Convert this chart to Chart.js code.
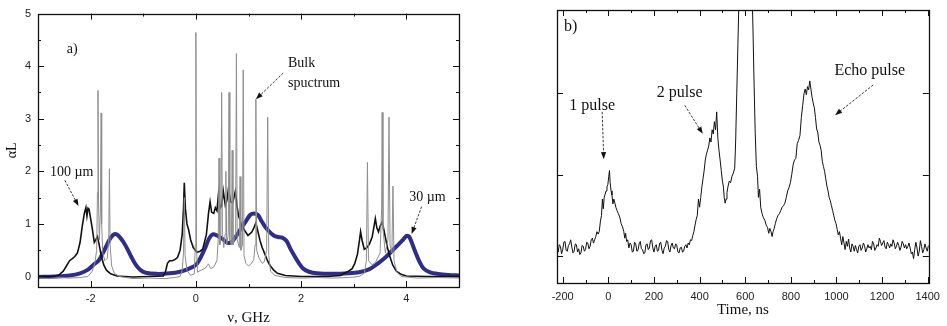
<!DOCTYPE html>
<html>
<head>
<meta charset="utf-8">
<script src="https://cdn.jsdelivr.net/npm/chart.js@4.4.0/dist/chart.umd.min.js"></script>
<style>
  html, body { margin: 0; padding: 0; background: #fff; }
  body { width: 947px; height: 326px; position: relative; overflow: hidden; }
  #panelA { position: absolute; left: 0; top: 0; }
  #panelB { position: absolute; left: 505px; top: 0; }
</style>
</head>
<body>
<canvas id="panelA" width="480" height="326"></canvas>
<canvas id="panelB" width="442" height="326"></canvas>
<script>
// ---------- panel a) absorption spectra, [frequency GHz, alpha*L] ----------
const bulkSpectrum = [
  [-3.0,-0.03],[-2.8,-0.04],[-2.6,-0.02],[-2.4,-0.03],[-2.2,-0.02],[-2.05,0.0],[-1.97,0.1],[-1.92,0.25],
  [-1.885,0.5],[-1.87,1.6],[-1.86,3.54],[-1.85,1.4],[-1.835,0.7],[-1.815,1.2],[-1.8,3.11],[-1.79,1.0],
  [-1.77,0.45],[-1.73,0.3],[-1.68,0.35],[-1.655,0.8],[-1.643,2.05],[-1.63,0.6],[-1.6,0.2],[-1.55,0.06],
  [-1.45,0.0],[-1.2,-0.04],[-0.9,-0.03],[-0.6,-0.04],[-0.4,-0.02],[-0.3,0.0],[-0.26,0.12],[-0.235,0.45],
  [-0.22,1.5],[-0.205,0.4],[-0.17,0.12],[-0.1,0.02],[-0.03,0.05],[-0.012,0.6],[0.0,4.64],[0.012,0.6],
  [0.03,0.08],[0.1,0.12],[0.18,0.16],[0.24,0.24],[0.28,0.15],[0.34,0.18],[0.4,0.3],[0.425,0.7],
  [0.44,2.25],[0.455,0.6],[0.475,0.8],[0.49,3.5],[0.505,0.8],[0.53,0.55],[0.555,0.8],[0.57,2.0],
  [0.585,0.6],[0.615,0.8],[0.63,3.5],[0.645,0.7],[0.675,0.6],[0.69,2.4],[0.705,0.6],[0.755,0.8],
  [0.77,4.24],[0.785,0.7],[0.825,0.55],[0.84,1.9],[0.855,0.5],[0.885,0.6],[0.9,3.93],[0.915,0.4],
  [0.95,0.25],[1.0,0.2],[1.05,0.24],[1.1,0.32],[1.125,0.6],[1.14,3.37],[1.155,0.5],[1.2,0.35],
  [1.26,0.25],[1.3,0.28],[1.345,0.5],[1.365,3.03],[1.385,0.4],[1.42,0.1],[1.5,0.02],[1.7,-0.02],
  [2.0,-0.03],[2.3,-0.02],[2.6,-0.03],[2.9,-0.02],[3.1,0.0],[3.2,0.06],[3.24,0.3],[3.26,2.17],
  [3.28,0.3],[3.35,0.22],[3.42,0.28],[3.5,0.45],[3.53,1.3],[3.54,3.12],[3.555,0.9],[3.6,0.45],
  [3.65,0.7],[3.67,3.03],[3.69,0.6],[3.725,0.45],[3.745,1.72],[3.765,0.3],[3.82,0.08],[3.9,0.0],
  [4.2,-0.03],[4.6,-0.02],[5.0,-0.03]
];
const film100 = [
  [-3.0,0.0],[-2.7,0.0],[-2.6,0.03],[-2.52,0.1],[-2.46,0.2],[-2.4,0.3],[-2.36,0.33],[-2.3,0.38],
  [-2.25,0.45],[-2.2,0.65],[-2.16,0.95],[-2.12,1.2],[-2.09,1.31],[-2.07,1.15],[-2.05,1.3],[-2.03,1.28],
  [-2.0,1.1],[-1.97,0.92],[-1.93,0.65],[-1.9,0.7],[-1.87,0.76],[-1.84,0.62],[-1.8,0.4],[-1.75,0.22],
  [-1.7,0.12],[-1.62,0.05],[-1.5,0.01],[-1.2,-0.01],[-0.9,0.0],[-0.62,0.01],[-0.58,0.08],[-0.54,0.25],
  [-0.5,0.3],[-0.45,0.3],[-0.4,0.32],[-0.35,0.36],[-0.3,0.5],[-0.26,0.8],[-0.235,1.3],[-0.22,1.78],
  [-0.2,1.3],[-0.17,1.0],[-0.14,0.9],[-0.1,0.7],[-0.05,0.55],[0.02,0.46],[0.08,0.48],[0.13,0.52],
  [0.2,0.8],[0.24,1.2],[0.27,1.42],[0.3,1.22],[0.34,1.2],[0.37,1.31],[0.4,1.25],[0.43,1.57],
  [0.46,1.3],[0.49,1.35],[0.52,1.63],[0.56,1.35],[0.59,1.45],[0.62,1.68],[0.66,1.42],[0.7,1.4],
  [0.75,1.62],[0.78,1.35],[0.81,1.16],[0.87,0.97],[0.93,0.87],[0.99,0.78],[1.06,0.84],[1.1,0.92],
  [1.14,1.02],[1.18,0.85],[1.22,0.68],[1.26,0.55],[1.31,0.43],[1.36,0.3],[1.41,0.21],[1.48,0.12],
  [1.55,0.06],[1.7,0.02],[2.0,0.0],[2.5,0.0],[2.75,0.02],[2.82,0.06],[2.9,0.1],[2.97,0.15],
  [3.02,0.25],[3.07,0.42],[3.11,0.7],[3.13,0.85],[3.16,0.68],[3.2,0.52],[3.25,0.55],[3.3,0.62],
  [3.35,0.75],[3.39,0.98],[3.41,1.1],[3.44,0.92],[3.47,0.85],[3.5,0.95],[3.54,1.04],[3.57,0.9],
  [3.6,0.75],[3.64,0.55],[3.68,0.4],[3.74,0.22],[3.81,0.1],[3.9,0.04],[4.0,0.01],[4.4,0.0],[5.0,0.0]
];
const film30 = [
  [-3.0,-0.01],[-2.7,0.0],[-2.4,0.02],[-2.2,0.06],[-2.05,0.13],[-1.95,0.22],[-1.85,0.3],[-1.78,0.42],
  [-1.7,0.58],[-1.63,0.72],[-1.56,0.8],[-1.5,0.8],[-1.44,0.74],[-1.38,0.66],[-1.3,0.52],[-1.22,0.36],
  [-1.14,0.22],[-1.05,0.12],[-0.95,0.07],[-0.75,0.05],[-0.5,0.06],[-0.3,0.09],[-0.15,0.14],[0.0,0.22],
  [0.1,0.38],[0.18,0.55],[0.25,0.72],[0.32,0.8],[0.4,0.78],[0.5,0.72],[0.6,0.64],[0.68,0.66],
  [0.76,0.76],[0.85,0.9],[0.95,1.05],[1.03,1.17],[1.1,1.2],[1.18,1.17],[1.25,1.05],[1.32,0.94],
  [1.4,0.85],[1.48,0.78],[1.56,0.75],[1.64,0.74],[1.72,0.68],[1.8,0.52],[1.88,0.38],[1.96,0.25],
  [2.04,0.15],[2.15,0.09],[2.3,0.06],[2.6,0.05],[2.9,0.06],[3.1,0.08],[3.3,0.14],[3.45,0.24],
  [3.6,0.36],[3.72,0.48],[3.82,0.58],[3.92,0.68],[4.0,0.77],[4.05,0.76],[4.12,0.6],[4.18,0.44],
  [4.25,0.28],[4.33,0.15],[4.45,0.08],[4.6,0.05],[4.8,0.03],[5.0,0.02]
];
const xTicksA = [-2, 0, 2, 4];
const xMinorA = [-1, 1, 3];
const yTicksA = [0, 1, 2, 3, 4, 5];
const yMinorA = [0.5, 1.5, 2.5, 3.5, 4.5];

// ---------- panel b) photon echo trace, [time ns, signal a.u.] ----------
const pulseTrace = [
  [-225,0.1],[-220,0.05],[-215,0.14],[-210,0.12],[-205,0.03],[-200,0.08],[-195,0.17],[-190,0.18],[-185,0.07],
  [-180,0.06],[-175,0.13],[-170,0.15],[-165,0.2],[-160,0.11],[-155,0.04],[-150,0.06],[-145,0.15],[-140,0.14],
  [-135,0.05],[-130,0.09],[-125,0.02],[-120,0.04],[-115,0.13],[-110,0.12],[-105,0.06],[-100,0.08],[-95,0.17],
  [-90,0.16],[-85,0.09],[-80,0.12],[-75,0.2],[-70,0.22],[-65,0.16],[-60,0.2],[-55,0.24],[-50,0.3],[-45,0.27],
  [-40,0.3],[-35,0.42],[-30,0.5],[-26,0.7],[-22,0.58],[-18,0.72],[-14,0.76],[-10,0.8],[-6,0.85],[-2,0.88],
  [2,0.98],[5,1.05],[8,0.9],[12,0.8],[16,0.75],[20,0.64],[24,0.7],[28,0.66],[33,0.6],[38,0.56],[44,0.52],
  [50,0.48],[56,0.4],[62,0.36],[68,0.3],[72,0.22],[76,0.28],[80,0.18],[85,0.2],[90,0.1],[95,0.16],[100,0.14],
  [105,0.05],[110,0.06],[115,0.17],[120,0.15],[125,0.06],[130,0.07],[135,0.15],[140,0.18],[145,0.09],[150,0.08],
  [155,0.03],[160,0.04],[165,0.14],[170,0.15],[175,0.08],[180,0.1],[185,0.19],[190,0.2],[195,0.1],[200,0.05],
  [205,0.12],[210,0.14],[215,0.06],[220,0.07],[225,0.16],[230,0.17],[235,0.07],[240,0.03],[245,0.1],[250,0.12],
  [255,0.19],[260,0.18],[265,0.08],[270,0.05],[275,0.13],[280,0.16],[285,0.1],[290,0.09],[295,0.15],[300,0.13],
  [305,0.05],[310,0.04],[315,0.1],[320,0.11],[325,0.05],[330,0.06],[335,0.12],[340,0.14],[345,0.1],[350,0.16],
  [355,0.14],[360,0.2],[365,0.19],[370,0.25],[375,0.3],[380,0.38],[385,0.45],[390,0.5],[395,0.7],[400,0.6],
  [405,0.72],[410,0.85],[415,0.95],[420,1.05],[425,1.18],[430,1.25],[435,1.3],[440,1.35],[445,1.45],[450,1.4],
  [455,1.55],[460,1.5],[465,1.65],[470,1.55],[475,1.77],[480,1.45],[485,1.3],[490,1.18],[495,1.05],[500,0.92],
  [504,0.86],[508,0.72],[512,0.65],[516,0.7],[520,0.78],[525,0.86],[530,0.92],[536,0.9],[542,0.98],[548,1.02],
  [554,1.08],[558,1.4],[563,2.0],[568,2.6],[573,3.2],[580,3.9],[600,4.3],[620,4.1],[628,3.5],[634,2.8],
  [639,2.1],[644,1.5],[649,1.1],[654,0.98],[658,0.72],[663,0.82],[668,0.6],[674,0.52],[680,0.47],[686,0.44],
  [692,0.38],[698,0.35],[703,0.28],[708,0.34],[713,0.3],[718,0.24],[722,0.3],[727,0.34],[732,0.4],[738,0.46],
  [744,0.5],[750,0.52],[756,0.56],[762,0.6],[768,0.62],[774,0.65],[780,0.72],[786,0.8],[792,0.84],[798,0.9],
  [804,1.0],[810,1.12],[816,1.18],[822,1.2],[828,1.38],[834,1.42],[840,1.48],[846,1.7],[852,1.85],[858,2.0],
  [863,2.05],[868,1.98],[873,2.08],[878,2.04],[883,2.15],[888,2.05],[893,1.95],[898,1.88],[903,1.82],[908,1.7],
  [913,1.56],[918,1.52],[923,1.4],[928,1.36],[933,1.3],[938,1.16],[943,1.1],[948,1.04],[953,0.95],[958,0.86],
  [963,0.8],[968,0.72],[973,0.68],[978,0.62],[983,0.56],[988,0.5],[993,0.44],[998,0.4],[1003,0.33],[1008,0.26],
  [1013,0.3],[1018,0.22],[1023,0.14],[1028,0.24],[1033,0.16],[1038,0.08],[1043,0.18],[1048,0.12],[1053,0.21],
  [1058,0.1],[1063,0.05],[1068,0.15],[1073,0.12],[1078,0.06],[1083,0.13],[1088,0.08],[1093,0.04],[1098,0.12],
  [1103,0.14],[1108,0.07],[1113,0.1],[1118,0.16],[1123,0.13],[1128,0.05],[1133,0.09],[1138,0.14],[1143,0.1],
  [1148,0.12],[1153,0.08],[1158,0.18],[1163,0.15],[1168,0.07],[1173,0.1],[1178,0.14],[1183,0.12],[1188,0.22],
  [1193,0.18],[1198,0.13],[1203,0.16],[1208,0.19],[1213,0.11],[1218,0.09],[1223,0.17],[1228,0.14],[1233,0.1],
  [1238,0.15],[1243,0.12],[1248,0.2],[1253,0.16],[1258,0.09],[1263,0.12],[1268,0.17],[1273,0.13],[1278,0.07],
  [1283,0.11],[1288,0.18],[1293,0.15],[1298,0.1],[1303,0.14],[1308,0.09],[1313,0.12],[1318,0.16],[1323,0.1],
  [1328,0.03],[1333,0.05],[1338,-0.03],[1343,0.08],[1348,0.17],[1353,0.1],[1358,0.0],[1363,0.06],[1368,0.19],
  [1373,0.12],[1378,0.04],[1383,0.08],[1388,0.15],[1393,0.1],[1398,0.06],[1403,0.13]
];
const xTicksB = [-200, 0, 200, 400, 600, 800, 1000, 1200, 1400];
const xMinorB = [-100, 100, 300, 500, 700, 900, 1100, 1300];
const yTicksB = [0, 1, 2];

// annotation text + arrows, in data coordinates
const notesA = [
  { text: 'a)', x: -2.35, y: 4.32, align: 'center' },
  { text: '100 µm', x: -2.36, y: 1.99, align: 'center' },
  { text: 'Bulk', x: 1.75, y: 4.05, align: 'left' },
  { text: 'spuctrum', x: 1.75, y: 3.67, align: 'left' },
  { text: '30 µm', x: 4.4, y: 1.5, align: 'center' }
];
const arrowsA = [
  { from: [-2.49, 1.83], to: [-2.23, 1.34] },
  { from: [1.66, 3.87], to: [1.14, 3.37] },
  { from: [4.29, 1.33], to: [4.1, 0.81] }
];
const notesB = [
  { text: 'b)', x: -165, y: 2.81, align: 'center' },
  { text: '1 pulse', x: -71, y: 1.85, align: 'center' },
  { text: '2 pulse', x: 313, y: 2.0, align: 'center' },
  { text: 'Echo pulse', x: 1146, y: 2.28, align: 'center' }
];
const arrowsB = [
  { from: [-27, 1.77], to: [-20, 1.19] },
  { from: [335, 1.85], to: [414, 1.5] },
  { from: [1161, 2.1], to: [994, 1.73] }
];

const toPoints = pairs => pairs.map(p => ({ x: p[0], y: p[1] }));
const serif = '"Liberation Serif", "DejaVu Serif", serif';
const sans = '"Liberation Sans", Arial, sans-serif';
const plainLabel = v => String(v);

// box around the plot with inward tick marks on all four sides
function frameTicks(xMajor, xMinor, yMajor, yMinor) {
    return {
        id: 'frameTicks',
        afterDatasetsDraw(chart) {
            const { ctx, chartArea: a, scales: { x, y } } = chart;
            ctx.save();
            ctx.strokeStyle = '#111';
            ctx.lineWidth = 1;
            const seg = (x1, y1, x2, y2) => { ctx.beginPath(); ctx.moveTo(x1, y1); ctx.lineTo(x2, y2); ctx.stroke(); };
            const tx = (v, len) => {
                const px = Math.round(x.getPixelForValue(v)) + 0.5;
                seg(px, a.bottom, px, a.bottom - len);
                seg(px, a.top, px, a.top + len);
            };
            const ty = (v, len) => {
                const py = Math.round(y.getPixelForValue(v)) + 0.5;
                seg(a.left, py, a.left + len, py);
                seg(a.right, py, a.right - len, py);
            };
            xMajor.forEach(v => tx(v, 6));
            xMinor.forEach(v => tx(v, 3));
            yMajor.forEach(v => ty(v, 6));
            yMinor.forEach(v => ty(v, 3));
            ctx.lineWidth = 1.3;
            ctx.strokeRect(Math.round(a.left) + 0.5, Math.round(a.top) + 0.5,
                Math.round(a.right - a.left), Math.round(a.bottom - a.top));
            ctx.restore();
        }
    };
}

function annotations(notes, arrows, fontSize) {
    return {
        id: 'annotations',
        afterDatasetsDraw(chart) {
            const { ctx, scales: { x, y } } = chart;
            ctx.save();
            ctx.fillStyle = '#111';
            ctx.strokeStyle = '#222';
            ctx.font = fontSize + 'px ' + serif;
            ctx.textBaseline = 'middle';
            notes.forEach(n => {
                ctx.textAlign = n.align;
                ctx.fillText(n.text, x.getPixelForValue(n.x), y.getPixelForValue(n.y));
            });
            arrows.forEach(ar => {
                const x1 = x.getPixelForValue(ar.from[0]), y1 = y.getPixelForValue(ar.from[1]);
                const x2 = x.getPixelForValue(ar.to[0]), y2 = y.getPixelForValue(ar.to[1]);
                const ang = Math.atan2(y2 - y1, x2 - x1);
                ctx.lineWidth = 0.9;
                ctx.setLineDash([2.5, 1.5]);
                ctx.beginPath();
                ctx.moveTo(x1, y1);
                ctx.lineTo(x2 - 4 * Math.cos(ang), y2 - 4 * Math.sin(ang));
                ctx.stroke();
                ctx.setLineDash([]);
                ctx.beginPath();
                ctx.moveTo(x2, y2);
                ctx.lineTo(x2 - 7 * Math.cos(ang) + 2.6 * Math.sin(ang), y2 - 7 * Math.sin(ang) - 2.6 * Math.cos(ang));
                ctx.lineTo(x2 - 7 * Math.cos(ang) - 2.6 * Math.sin(ang), y2 - 7 * Math.sin(ang) + 2.6 * Math.cos(ang));
                ctx.closePath();
                ctx.fill();
            });
            ctx.restore();
        }
    };
}

const hiddenGrid = { display: false, drawTicks: false, tickLength: 0 };

new Chart(document.getElementById('panelA'), {
    type: 'line',
    data: {
        datasets: [
            { label: 'Bulk spectrum', data: toPoints(bulkSpectrum), borderColor: '#8e8e8e', borderWidth: 1, order: 1 },
            { label: '100 µm', data: toPoints(film100), borderColor: '#111111', borderWidth: 1.6, order: 2 },
            { label: '30 µm', data: toPoints(film30), borderColor: '#2e2e8a', borderWidth: 4, tension: 0.3, order: 3 }
        ]
    },
    options: {
        responsive: false,
        animation: false,
        events: [],
        elements: { point: { radius: 0 }, line: { tension: 0 } },
        datasets: { line: { clip: 0 } },
        layout: { padding: { left: 0, top: 12, right: 21, bottom: 0 } },
        plugins: { legend: { display: false }, tooltip: { enabled: false } },
        scales: {
            x: {
                type: 'linear', min: -3, max: 5,
                grid: hiddenGrid, border: { display: false },
                afterBuildTicks: axis => { axis.ticks = xTicksA.map(v => ({ value: v })); },
                afterFit: axis => { axis.height = 39; },
                ticks: { color: '#222', font: { family: sans, size: 11 }, padding: 5, maxRotation: 0, callback: plainLabel },
                title: { display: true, text: 'ν, GHz', color: '#111', font: { family: serif, size: 15, lineHeight: 1 }, padding: { top: 0, bottom: 0 } }
            },
            y: {
                min: -0.2, max: 5,
                grid: hiddenGrid, border: { display: false },
                afterBuildTicks: axis => { axis.ticks = yTicksA.map(v => ({ value: v })); },
                afterFit: axis => { axis.width = 38; },
                ticks: { color: '#222', font: { family: sans, size: 11 }, padding: 7, callback: plainLabel },
                title: { display: true, text: 'αL', color: '#111', font: { family: serif, size: 14, lineHeight: 1 }, padding: { top: 5, bottom: 0 } }
            }
        }
    },
    plugins: [frameTicks(xTicksA, xMinorA, yTicksA, yMinorA), annotations(notesA, arrowsA, 14)]
});

new Chart(document.getElementById('panelB'), {
    type: 'line',
    data: {
        datasets: [
            { label: 'Signal', data: toPoints(pulseTrace), borderColor: '#111111', borderWidth: 1 }
        ]
    },
    options: {
        responsive: false,
        animation: false,
        events: [],
        elements: { point: { radius: 0 }, line: { tension: 0 } },
        datasets: { line: { clip: 0 } },
        layout: { padding: { left: 0, top: 10, right: 16, bottom: 0 } },
        plugins: { legend: { display: false }, tooltip: { enabled: false } },
        scales: {
            x: {
                type: 'linear', min: -225, max: 1405,
                grid: hiddenGrid, border: { display: false },
                afterBuildTicks: axis => { axis.ticks = xTicksB.map(v => ({ value: v })); },
                afterFit: axis => { axis.height = 43; },
                ticks: { color: '#222', font: { family: sans, size: 11 }, padding: 7, maxRotation: 0, callback: plainLabel },
                title: { display: true, text: 'Time, ns', color: '#111', font: { family: serif, size: 15, lineHeight: 1 }, padding: { top: 0, bottom: 8 } }
            },
            y: {
                min: -0.33, max: 3.02,
                grid: hiddenGrid, border: { display: false },
                afterBuildTicks: axis => { axis.ticks = yTicksB.map(v => ({ value: v })); },
                afterFit: axis => { axis.width = 52; },
                ticks: { display: false }
            }
        }
    },
    plugins: [frameTicks(xTicksB, xMinorB, yTicksB, []), annotations(notesB, arrowsB, 16)]
});
</script>
</body>
</html>
